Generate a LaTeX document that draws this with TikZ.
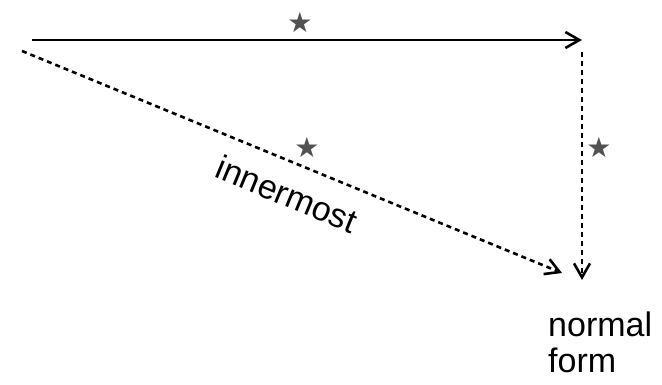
\documentclass[tikz,border=0pt]{standalone}
\usepackage{fontspec}
\setmainfont{Liberation Sans}
\newfontfamily\symfont{DejaVu Sans}
\usetikzlibrary{arrows.meta}
\begin{document}
\begin{tikzpicture}[x=1pt,y=-1pt,>={Straight Barb[length=14pt,width=16pt]}, line join=round,
	label/.style={font=\fontsize{34}{36}\selectfont, inner sep=0pt},
	mark star/.style={font=\symfont\fontsize{28}{28}\selectfont, text=black!68, inner sep=0pt},
	dash line/.style={dash pattern=on 5pt off 4pt}]
				\useasboundingbox (0,0) rectangle (662,384);
				% ends of the three arrows
				\coordinate (topS) at (32,40);
				\coordinate (topE) at (582,40);
				\coordinate (downS) at (582,52);
				\coordinate (downE) at (582,280);
				\coordinate (diagS) at (22,51);
				\coordinate (diagE) at (562,273);
				\draw[->, line width=2.6pt] (topS)--(topE);
				\draw[->, line width=2.6pt, dash line] (downS)--(downE);
				\draw[->, line width=2.6pt, dash line] (diagS)--(diagE);
				\node[mark star] (starTop) at (300,22) {★};
				\node[mark star] (starDiag) at (307,147) {★};
				\node[mark star] (starDown) at (599,147) {★};
				\node[label, rotate=-22.4] (inner) at (287,194) {innermost};
				\node[label, align=left, anchor=north west] (nf) at (548,312) {normal\\form};
	\end{tikzpicture}
\end{document}
